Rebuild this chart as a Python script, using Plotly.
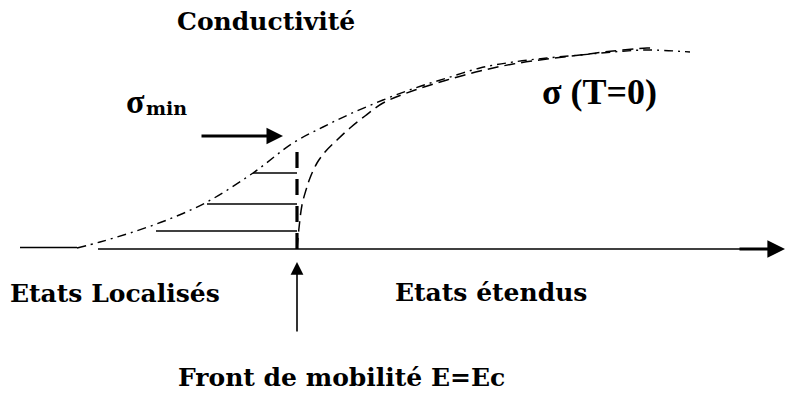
import plotly.graph_objects as go

# Schematic conductivity vs energy around the mobility edge (arbitrary units)
E_C = 297            # mobility edge position on the energy axis
SIGMA_MIN = 104      # minimum metallic conductivity at E = Ec

# finite-temperature conductivity (dash-dot)
energy_T = [77, 100, 130, 167, 207, 253, 293, 323, 350, 383, 415, 447, 480, 513, 547, 580, 613, 647, 690]
sigma_T = [1, 7, 16, 29, 47, 76, 106, 122, 135, 149, 161, 171, 181, 187, 191, 194, 197, 199, 197]

# zero-temperature conductivity (dashed)
energy_0 = [297, 299, 302, 306, 310, 317, 325, 337, 350, 365, 383, 415, 447, 480, 513, 547, 580, 613, 647, 655]
sigma_0 = [0, 21, 44, 59, 71, 86, 97, 109, 121, 133, 146, 159, 169, 178, 185, 190, 194, 198, 201, 201]

# hopping levels in the localised states
step_start = [253, 207, 156]
step_sigma = [76, 45, 18]

# energy axis
axis_left = [20, 77]
axis_left_sigma = 1.5
axis_start, axis_end = 98, 785

fig = go.Figure()

fig.add_trace(go.Scatter(x=axis_left, y=[axis_left_sigma] * 2, mode="lines",
                         line=dict(color="black", width=1.6)))
fig.add_trace(go.Scatter(x=[axis_start, 740], y=[0, 0], mode="lines",
                         line=dict(color="black", width=1.6)))

fig.add_trace(go.Scatter(x=energy_T, y=sigma_T, mode="lines", line_shape="spline",
                         line=dict(color="black", width=1.4, dash="9px,5px,2px,5px")))
fig.add_trace(go.Scatter(x=energy_0, y=sigma_0, mode="lines", line_shape="spline",
                         line=dict(color="black", width=1.5, dash="11px,6px")))

for xs, s in zip(step_start, step_sigma):
    fig.add_trace(go.Scatter(x=[xs, E_C], y=[s, s], mode="lines",
                             line=dict(color="black", width=1.6)))

fig.add_trace(go.Scatter(x=[E_C, E_C], y=[0, SIGMA_MIN], mode="lines",
                         line=dict(color="black", width=3.2, dash="16px,11px")))

# arrows
arrows = [
    dict(x=axis_end, y=0, ax=738, ay=0, w=3.2),           # energy axis head
    dict(x=283, y=113, ax=200, ay=113, w=3),               # sigma_min pointer
    dict(x=E_C, y=-13, ax=E_C, ay=-84, w=1.6),             # mobility edge pointer
]
for a in arrows:
    fig.add_annotation(x=a["x"], y=a["y"], ax=a["ax"], ay=a["ay"],
                       xref="x", yref="y", axref="x", ayref="y",
                       showarrow=True, arrowhead=2, arrowsize=1.6 if a["w"] < 2 else 1.1,
                       arrowwidth=a["w"], arrowcolor="black", text="")

garamond_like = dict(family="DejaVu Serif", size=25, color="black", weight="bold")
times_like = dict(family="Liberation Serif", size=36, color="black", weight="bold")

labels = [
    ("Conductivité", 266, 228, garamond_like),
    ("Etats Localisés", 115, -44, garamond_like),
    ("Etats étendus", 491, -43, garamond_like),
    ("Front de mobilité E=Ec", 341, -128, garamond_like),
    ("σ (T=0)", 599, 157, times_like),
    ("σ", 135, 148, dict(times_like, size=34)),
    ("min", 166, 141, dict(garamond_like, size=19)),
]
for txt, x, y, f in labels:
    fig.add_annotation(x=x, y=y, xref="x", yref="y", text=txt, showarrow=False,
                       font=f, xanchor="center", yanchor="middle")

fig.update_layout(
    width=785, height=394,
    margin=dict(l=0, r=0, t=0, b=0),
    paper_bgcolor="white", plot_bgcolor="white",
    showlegend=False,
    xaxis=dict(range=[0, 785], visible=False, fixedrange=True),
    yaxis=dict(range=[-145, 249], visible=False, fixedrange=True),
)

fig.write_html("out.html")
